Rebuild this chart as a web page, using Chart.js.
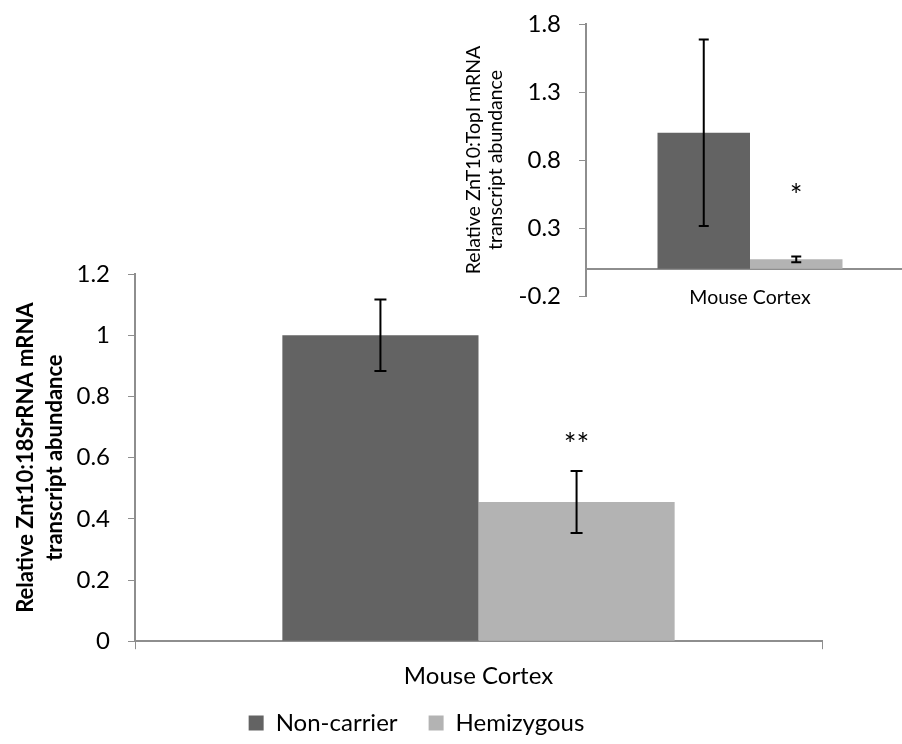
<!DOCTYPE html>
<html>
<head>
<meta charset="utf-8">
<script src="https://cdn.jsdelivr.net/npm/chart.js@4"></script>
<style>
  html, body { margin: 0; padding: 0; background: #fff; overflow: hidden; }
  #wrap { position: relative; width: 902px; height: 744px; }
  #mainChart { position: absolute; left: 0; top: 0; }
  #insetChart { position: absolute; left: 440px; top: 0; }
</style>
</head>
<body>
<div id="wrap">
  <canvas id="mainChart" width="830" height="744"></canvas>
  <canvas id="insetChart" width="474" height="340"></canvas>
</div>
<script>
// categories and groups
const categories = ['Mouse Cortex'];
const groups = ['Non-carrier', 'Hemizygous'];
const groupColors = ['#636363', '#b3b3b3'];

// main chart: Znt10 / 18SrRNA
const mainMeans = [1.0, 0.455];
const mainErrors = [0.117, 0.101];
const mainStars = ['', '**'];
const mainTicks = [0, 0.2, 0.4, 0.6, 0.8, 1.0, 1.2];

// inset chart: ZnT10 / TopI
const insetMeans = [1.0, 0.07];
const insetErrors = [0.686, 0.021];
const insetStars = ['', '*'];
const insetTicks = [-0.2, 0.3, 0.8, 1.3, 1.8];

const FONT = 'Lato, "Open Sans", sans-serif';
const AXIS_GRAY = '#8e8e8e';

// error bars + significance stars, drawn from the scales
const errorBarPlugin = {
  id: 'errorBars',
  afterDatasetsDraw(chart, args, opts) {
    const ctx = chart.ctx;
    const yScale = chart.scales.y;
    ctx.save();
    chart.data.datasets.forEach((ds, i) => {
      const meta = chart.getDatasetMeta(i);
      meta.data.forEach((bar, j) => {
        const v = ds.data[j];
        const e = ds.errors[j];
        const yTop = yScale.getPixelForValue(v + e);
        const yBot = yScale.getPixelForValue(v - e);
        ctx.strokeStyle = '#000';
        ctx.lineWidth = 2;
        ctx.beginPath();
        ctx.moveTo(bar.x, yTop); ctx.lineTo(bar.x, yBot);
        ctx.moveTo(bar.x - opts.cap, yTop); ctx.lineTo(bar.x + opts.cap, yTop);
        ctx.moveTo(bar.x - opts.cap, yBot); ctx.lineTo(bar.x + opts.cap, yBot);
        ctx.stroke();
        if (ds.stars[j]) {
          ctx.fillStyle = '#000';
          ctx.font = opts.starSize + 'px ' + FONT;
          ctx.textAlign = 'center';
          ctx.textBaseline = 'middle';
          ctx.fillText(ds.stars[j], bar.x, yScale.getPixelForValue(opts.starAt) + opts.starShift);
        }
      });
    });
    ctx.restore();
  }
};

function fmt(v) {
  return Number(v.toFixed(1)).toString();
}

function mainChart() {
  const ctx = document.getElementById('mainChart');
  const datasets = groups.map((g, i) => ({
    label: g,
    data: [mainMeans[i]],
    errors: [mainErrors[i]],
    stars: [mainStars[i]],
    backgroundColor: groupColors[i],
    borderColor: groupColors[i],
    borderWidth: 0,
    categoryPercentage: 0.571,
    barPercentage: 1.0
  }));

  new Chart(ctx, {
    type: 'bar',
    data: { labels: categories, datasets: datasets },
    plugins: [errorBarPlugin],
    options: {
      responsive: false,
      animation: false,
      layout: { padding: { top: 274, right: 8, left: 11, bottom: -1 } },
      plugins: {
        legend: {
          position: 'bottom',
          labels: {
            color: '#000',
            font: { family: FONT, size: 24 },
            boxWidth: 15,
            boxHeight: 15,
            padding: 7,
            // wider gap between the two entries
            generateLabels: chart => Chart.defaults.plugins.legend.labels.generateLabels(chart).map((l, i, arr) => {
              if (i < arr.length - 1) l.text += '\u00a0\u00a0\u00a0\u00a0';
              return l;
            })
          }
        },
        tooltip: { enabled: false },
        errorBars: { cap: 6, starAt: 0.677, starSize: 30, starShift: 11 }
      },
      scales: {
        x: {
          grid: { display: true, drawOnChartArea: false, drawTicks: true, tickLength: 8, color: AXIS_GRAY, offset: true },
          border: { display: true, color: AXIS_GRAY, width: 2 },
          ticks: { color: '#000', font: { family: FONT, size: 24 }, padding: 13 }
        },
        y: {
          min: 0,
          max: 1.2,
          afterBuildTicks: axis => { axis.ticks = mainTicks.map(v => ({ value: v })); },
          afterFit: axis => { axis.width = 124; },
          grid: { display: true, drawOnChartArea: false, drawTicks: true, tickLength: 7, color: AXIS_GRAY },
          border: { display: true, color: AXIS_GRAY, width: 2 },
          ticks: { color: '#000', font: { family: FONT, size: 24 }, padding: 18, callback: v => fmt(v) },
          title: {
            display: true,
            text: ['Relative Znt10:18SrRNA mRNA', 'transcript abundance'],
            color: '#000',
            font: { family: FONT, size: 22, weight: 'bold', lineHeight: 1.32 },
            padding: { top: 0, bottom: 4 }
          }
        }
      }
    }
  });
}

function insetChart() {
  const ctx = document.getElementById('insetChart');
  const datasets = groups.map((g, i) => ({
    label: g,
    data: [insetMeans[i]],
    errors: [insetErrors[i]],
    stars: [insetStars[i]],
    backgroundColor: groupColors[i],
    borderWidth: 0,
    categoryPercentage: 0.564,
    barPercentage: 1.0
  }));

  new Chart(ctx, {
    type: 'bar',
    data: { labels: categories, datasets: datasets },
    plugins: [errorBarPlugin],
    options: {
      responsive: false,
      animation: false,
      layout: { padding: { top: 24, right: 0, left: 23, bottom: 44 } },
      plugins: {
        legend: { display: false },
        tooltip: { enabled: false },
        errorBars: { cap: 5, starAt: 0.607, starSize: 30, starShift: 10 }
      },
      scales: {
        x: {
          position: { y: 0 },
          afterFit: axis => { axis.height = 0; },
          grid: { display: false },
          border: { display: true, color: AXIS_GRAY, width: 2 },
          ticks: { color: '#000', font: { family: FONT, size: 19.5 }, padding: 9 }
        },
        y: {
          min: -0.2,
          max: 1.8,
          afterBuildTicks: axis => { axis.ticks = insetTicks.map(v => ({ value: v })); },
          afterFit: axis => {
            axis.width = 123;
            axis.paddingTop = 0;
            axis.paddingBottom = 0;
          },
          grid: { display: true, drawOnChartArea: false, drawTicks: true, tickLength: 7, color: AXIS_GRAY },
          border: { display: true, color: AXIS_GRAY, width: 2 },
          ticks: { color: '#000', font: { family: FONT, size: 24 }, padding: 18, callback: v => fmt(v) },
          title: {
            display: true,
            text: ['Relative ZnT10:TopI mRNA', 'transcript abundance'],
            color: '#000',
            font: { family: FONT, size: 19.5, lineHeight: 1.13 },
            padding: { top: 0, bottom: 4 }
          }
        }
      }
    }
  });
}

addEventListener('DOMContentLoaded', () => {
  mainChart();
  insetChart();
});
</script>
</body>
</html>
